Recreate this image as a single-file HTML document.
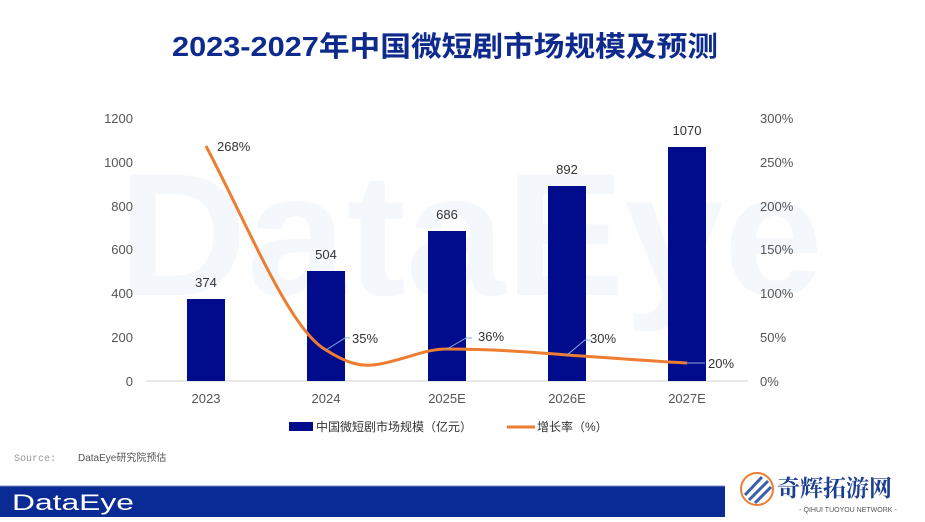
<!DOCTYPE html>
<html><head><meta charset="utf-8"><style>
body{margin:0;width:925px;height:517px;background:#fff;overflow:hidden;font-family:"Liberation Sans","Noto Sans CJK SC",sans-serif;}
</style></head><body>
<svg width="925" height="517" viewBox="0 0 925 517" xmlns="http://www.w3.org/2000/svg" font-family="Liberation Sans, Noto Sans CJK SC, sans-serif">
<text x="118" y="295" font-size="175" font-weight="bold" fill="#f4f7fc" textLength="705" lengthAdjust="spacingAndGlyphs">DataEye</text>
<text x="172" y="56" font-size="28" font-weight="bold" fill="#0d2a8c" textLength="546" lengthAdjust="spacingAndGlyphs">2023-2027年中国微短剧市场规模及预测</text>
<g font-size="13" fill="#555">
<text x="133" y="123" text-anchor="end">1200</text>
<text x="133" y="167" text-anchor="end">1000</text>
<text x="133" y="211" text-anchor="end">800</text>
<text x="133" y="254" text-anchor="end">600</text>
<text x="133" y="298" text-anchor="end">400</text>
<text x="133" y="342" text-anchor="end">200</text>
<text x="133" y="386" text-anchor="end">0</text>
<text x="760" y="123">300%</text>
<text x="760" y="167">250%</text>
<text x="760" y="211">200%</text>
<text x="760" y="254">150%</text>
<text x="760" y="298">100%</text>
<text x="760" y="342">50%</text>
<text x="760" y="386">0%</text>
<text x="206" y="403" text-anchor="middle">2023</text>
<text x="326" y="403" text-anchor="middle">2024</text>
<text x="447" y="403" text-anchor="middle">2025E</text>
<text x="567" y="403" text-anchor="middle">2026E</text>
<text x="687" y="403" text-anchor="middle">2027E</text>
</g>
<line x1="146" y1="381" x2="748" y2="381" stroke="#d0d0d0" stroke-width="1"/>
<g fill="#000c8c">
<rect x="187" y="299" width="38" height="82"/>
<rect x="307" y="271" width="38" height="110"/>
<rect x="428" y="231" width="38" height="150"/>
<rect x="548" y="186" width="38" height="195"/>
<rect x="668" y="147" width="38" height="234"/>
</g>
<g font-size="13" fill="#333" text-anchor="middle">
<text x="206" y="287">374</text>
<text x="326" y="259">504</text>
<text x="447" y="219">686</text>
<text x="567" y="174">892</text>
<text x="687" y="135">1070</text>
</g>
<path d="M206,146 C250,230 290,330 326,350 C345,362 360,368 380,364 C410,358 425,349 447,349 C490,349 530,352 567,355 C610,358 650,361 687,363" fill="none" stroke="#ed7d31" stroke-width="3"/>
<g stroke="#8faadc" stroke-width="1" fill="none">
<polyline points="326,350 345,338 350,338"/>
<polyline points="447,349 466,338 472,338"/>
<polyline points="567,355 585,340 590,340"/>
<polyline points="687,363 705,363"/>
</g>
<g font-size="13" fill="#333">
<text x="217" y="151">268%</text>
<text x="352" y="343">35%</text>
<text x="478" y="341">36%</text>
<text x="590" y="343">30%</text>
<text x="708" y="368">20%</text>
</g>
<rect x="289" y="422" width="24" height="9" fill="#000c8c"/>
<text x="316" y="431" font-size="12" fill="#333">中国微短剧市场规模（亿元）</text>
<line x1="507" y1="427" x2="535" y2="427" stroke="#ed7d31" stroke-width="3"/>
<text x="537" y="431" font-size="12" fill="#333">增长率（%）</text>
<text x="14" y="461" font-size="10" fill="#999" font-family="Liberation Mono, monospace">Source:</text>
<text x="78" y="461" font-size="10" fill="#555">DataEye研究院预估</text>
<rect x="0" y="486" width="725" height="31" fill="#0a2a94"/>
<line x1="0" y1="486" x2="725" y2="486" stroke="#7a8fc4" stroke-width="1"/>
<text x="12" y="510" font-size="22" fill="#fff" textLength="122" lengthAdjust="spacingAndGlyphs">DataEye</text>
<circle cx="757" cy="489" r="16" fill="#fff" stroke="#ed7d31" stroke-width="2"/>
<g stroke="#3b5fa8" stroke-width="3">
<line x1="745" y1="495" x2="762" y2="477"/>
<line x1="749" y1="500" x2="768" y2="481"/>
<line x1="755" y1="503" x2="771" y2="487"/>
</g>
<text x="777" y="496" font-size="23" font-weight="bold" fill="#1c3f8f" font-family="Noto Serif CJK SC, serif">奇辉拓游网</text>
<text x="848" y="512" font-size="7" fill="#555" text-anchor="middle">- QIHUI TUOYOU NETWORK -</text>
</svg>
</body></html>
